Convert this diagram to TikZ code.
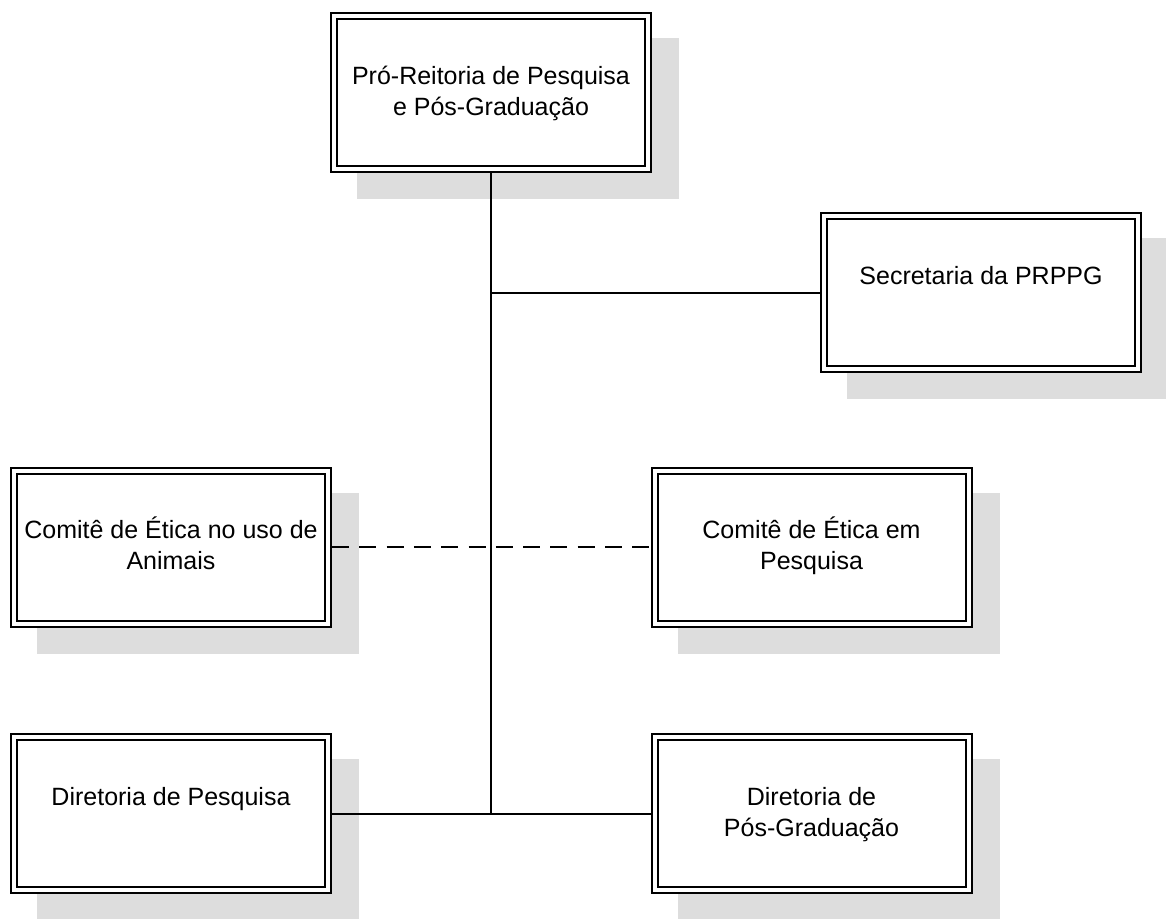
\documentclass[tikz,border=0pt]{standalone}
\usepackage{fontspec}
\setmainfont{Liberation Sans}
\usetikzlibrary{backgrounds}
\definecolor{shadowgray}{RGB}{221,221,221}
% centred multi-line text whose baseline is that of its first line
\newcommand{\boxlines}[1]{\begin{tabular}[t]{@{}c@{}}#1\end{tabular}}

\begin{document}
\begin{tikzpicture}[x=1pt,y=-1pt,
  unit/.style={draw=black, fill=white, line width=2pt, double=white,
    double distance=4pt, minimum width=314pt, minimum height=153pt,
    inner sep=0pt, outer sep=4pt},
  caption/.style={anchor=base, inner sep=0pt, font=\fontsize{25}{31}\selectfont},
  link/.style={draw=black, line width=2pt},
  dashlink/.style={link, dash pattern=on 17pt off 10.3pt}]
\useasboundingbox (0,0) rectangle (1166,918);

% organisational units
\node[unit] (prppg) at (491,92.5) {};
\node[unit] (sec)   at (981,292.5) {};
\node[unit] (ceua)  at (171,547) {};
\node[unit] (cep)   at (811.5,547) {};
\node[unit] (dp)    at (171,813.5) {};
\node[unit] (dpg)   at (811.5,813.5) {};

% unit names
\node[caption] (t-prppg) at ([yshift=-72pt]prppg.north) {\boxlines{Pró-Reitoria de Pesquisa\\e Pós-Graduação}};
\node[caption] (t-sec)   at ([yshift=-72pt]sec.north)   {\boxlines{Secretaria da PRPPG}};
\node[caption] (t-ceua)  at ([yshift=-72pt]ceua.north)  {\boxlines{Comitê de Ética no uso de\\Animais}};
\node[caption] (t-cep)   at ([yshift=-72pt]cep.north)   {\boxlines{Comitê de Ética em\\Pesquisa}};
\node[caption] (t-dp)    at ([yshift=-72pt]dp.north)    {\boxlines{Diretoria de Pesquisa}};
\node[caption] (t-dpg)   at ([yshift=-72pt]dpg.north)   {\boxlines{Diretoria de\\Pós-Graduação}};

% drop shadows behind the units
\begin{scope}[on background layer]
  \foreach \n in {prppg,sec,ceua,cep,dp,dpg}
    \fill[shadowgray] ([xshift=27pt,yshift=-26pt]\n.south west)
      rectangle ([xshift=27pt,yshift=-26pt]\n.north east);
\end{scope}

% reporting lines
\coordinate (jsec) at (prppg.south |- sec.west);
\coordinate (jbot) at (prppg.south |- dp.east);
\draw[dashlink] (ceua.east) -- (cep.west);
\draw[link] (prppg.south) -- (jbot);
\draw[link] (jsec) -- (sec.west);
\draw[link] (dp.east) -- (dpg.west);
\end{tikzpicture}
\end{document}
